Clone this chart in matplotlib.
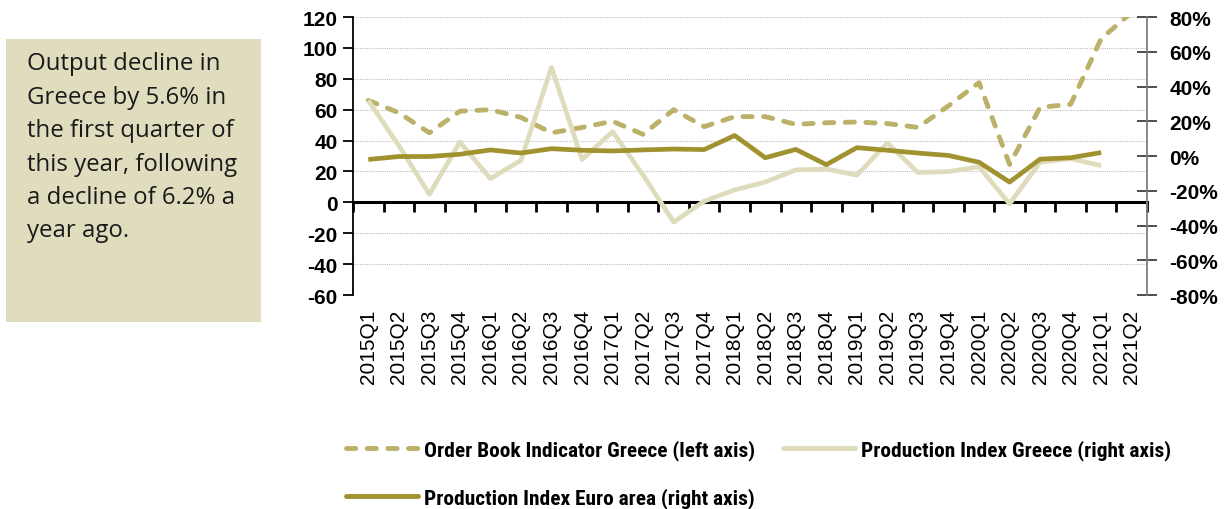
import matplotlib
matplotlib.use("Agg")
import matplotlib.pyplot as plt
from matplotlib import font_manager
from matplotlib.transforms import blended_transform_factory
from matplotlib.patches import Rectangle
from matplotlib.lines import Line2D
from matplotlib.ticker import FuncFormatter
import numpy as np

# ---------------- data ----------------
categories = ["2015Q1", "2015Q2", "2015Q3", "2015Q4", "2016Q1", "2016Q2", "2016Q3", "2016Q4",
              "2017Q1", "2017Q2", "2017Q3", "2017Q4", "2018Q1", "2018Q2", "2018Q3", "2018Q4",
              "2019Q1", "2019Q2", "2019Q3", "2019Q4", "2020Q1", "2020Q2", "2020Q3", "2020Q4",
              "2021Q1", "2021Q2"]
order_book = [66, 58, 45, 59, 60, 55, 45, 48.5, 52.5, 44, 60, 49, 55.5, 55.5, 50.5, 51.5,
              52, 51, 48.5, 62.5, 77.5, 24.5, 61.5, 63.5, 106, 123]
prod_greece = [32, 6, -22, 8, -13, -2.5, 51, -2, 14, -11, -38, -26, -19.5, -15, -8, -7.5,
               -11, 7.5, -9.5, -9, -6.2, -27.5, -3.5, -1.5, -5.6, np.nan]
prod_euro = [-2, -0.3, -0.3, 1, 3.5, 1.7, 4.2, 3.3, 2.9, 3.5, 4, 3.7, 11.8, -1, 3.8, -5,
             4.8, 3.3, 1.7, 0.3, -3.6, -15, -1.8, -1, 2, np.nan]
left_ticks = [-60, -40, -20, 0, 20, 40, 60, 80, 100, 120]
right_ticks = [-80, -60, -40, -20, 0, 20, 40, 60, 80]
legend_labels = ["Order Book Indicator Greece (left axis)",
                 "Production Index Greece (right axis)",
                 "Production Index Euro area (right axis)"]
note_lines = ["Output decline in", "Greece by 5.6% in", "the first quarter of",
              "this year, following", "a decline of 6.2% a", "year ago."]

# ---------------- fonts ----------------
available = {f.name for f in font_manager.fontManager.ttflist}
narrow = None
for cand in ["Roboto Condensed", "Liberation Sans Narrow", "Open Sans Condensed"]:
    if cand in available:
        narrow = cand
        break
if narrow is None:
    narrow_kw = dict(family="DejaVu Sans", stretch="condensed", size=13)
else:
    narrow_kw = dict(family=narrow, size=15.4, weight="bold")

c_order = "#BCB168"
c_greece = "#DFDCBD"
c_euro = "#A19230"
c_box = "#E0DCBE"
dash_style = (0, (1.9, 2.35))

W, H = 1226, 510
fig = plt.figure(figsize=(W / 100, H / 100), dpi=100)

ax_l, ax_r, ax_t, ax_b = 353, 1147, 18, 296
ax = fig.add_axes([ax_l / W, 1 - ax_b / H, (ax_r - ax_l) / W, (ax_b - ax_t) / H])
ax2 = ax.twinx()

x = np.arange(len(categories))

# left axis
ax.set_xlim(-0.5, len(categories) - 0.5)
ax.set_ylim(-60, 120)
ax.set_yticks(left_ticks)
ax.set_yticklabels([str(t) for t in left_ticks], family="Liberation Sans", fontweight="bold", fontsize=15)
ax.grid(axis="y", color="#BFBFBF", linestyle=(0, (1, 1)), linewidth=0.8)
ax.set_axisbelow(True)
for s in ["top", "right"]:
    ax.spines[s].set_visible(False)
ax.spines["left"].set_color("black")
ax.spines["left"].set_linewidth(1.3)
ax.spines["bottom"].set_position(("data", 0))
ax.spines["bottom"].set_linewidth(2.2)
ax.tick_params(axis="y", direction="out", length=7, width=1.3, pad=4)
ax.set_xticks(np.arange(-0.5, len(categories), 1))
ax.set_xticklabels([])
ax.tick_params(axis="x", direction="out", length=7, width=2)

ax.plot(x, order_book, color=c_order, lw=3.5, linestyle=dash_style,
        dash_capstyle="round", solid_capstyle="round", zorder=3)

# right axis
ax2.set_ylim(-80, 80)
ax2.set_yticks(right_ticks)
ax2.yaxis.set_major_formatter(FuncFormatter(lambda v, p: f"{int(v)}%"))
for lab in ax2.get_yticklabels():
    lab.set_family("Liberation Sans")
    lab.set_fontweight("bold")
    lab.set_fontsize(15)
for s in ["top", "left", "bottom"]:
    ax2.spines[s].set_visible(False)
ax2.spines["right"].set_color("#808080")
ax2.spines["right"].set_linewidth(1.3)
ax2.tick_params(axis="y", direction="inout", length=14, width=1.3, pad=9)
ax2.tick_params(axis="y", color="#404040")

ax2.plot(x, prod_greece, color=c_greece, lw=3.4, solid_capstyle="butt", zorder=2)
ax2.plot(x, prod_euro, color=c_euro, lw=3.4, solid_capstyle="butt", zorder=3)

# category labels at bottom of plot area
tr = blended_transform_factory(ax.transData, ax.transAxes)
for i, lab in enumerate(categories):
    ax.text(i, -0.05, lab, transform=tr, rotation=90, ha="center", va="top",
            family="Liberation Sans", fontsize=15)

# note box
fig.patches.append(Rectangle((6 / W, 1 - 323 / H), 255 / W, 283 / H, transform=fig.transFigure,
                             facecolor=c_box, edgecolor="none", zorder=0))
baselines = [70, 104, 137, 171, 204, 237]
for line, yb in zip(note_lines, baselines):
    fig.text(27 / W, 1 - yb / H, line, family="Open Sans", fontsize=17.3, va="baseline",
             ha="left", color="#1a1a1a")

# legend
h_order = Line2D([], [], color=c_order, lw=3.5, linestyle=dash_style, dash_capstyle="round")
h_greece = Line2D([], [], color=c_greece, lw=3.5, solid_capstyle="round")
h_euro = Line2D([], [], color=c_euro, lw=3.5, solid_capstyle="round")
leg = fig.legend([h_order, h_euro, h_greece], [legend_labels[0], legend_labels[2], legend_labels[1]],
                 ncol=2, loc="upper left", bbox_to_anchor=(346 / W, 1 - 440 / H),
                 frameon=False, handlelength=3.35, handletextpad=0.3, columnspacing=1.3,
                 labelspacing=1.3, borderaxespad=0, borderpad=0, prop=narrow_kw)

fig.savefig("out.png", dpi=100)
